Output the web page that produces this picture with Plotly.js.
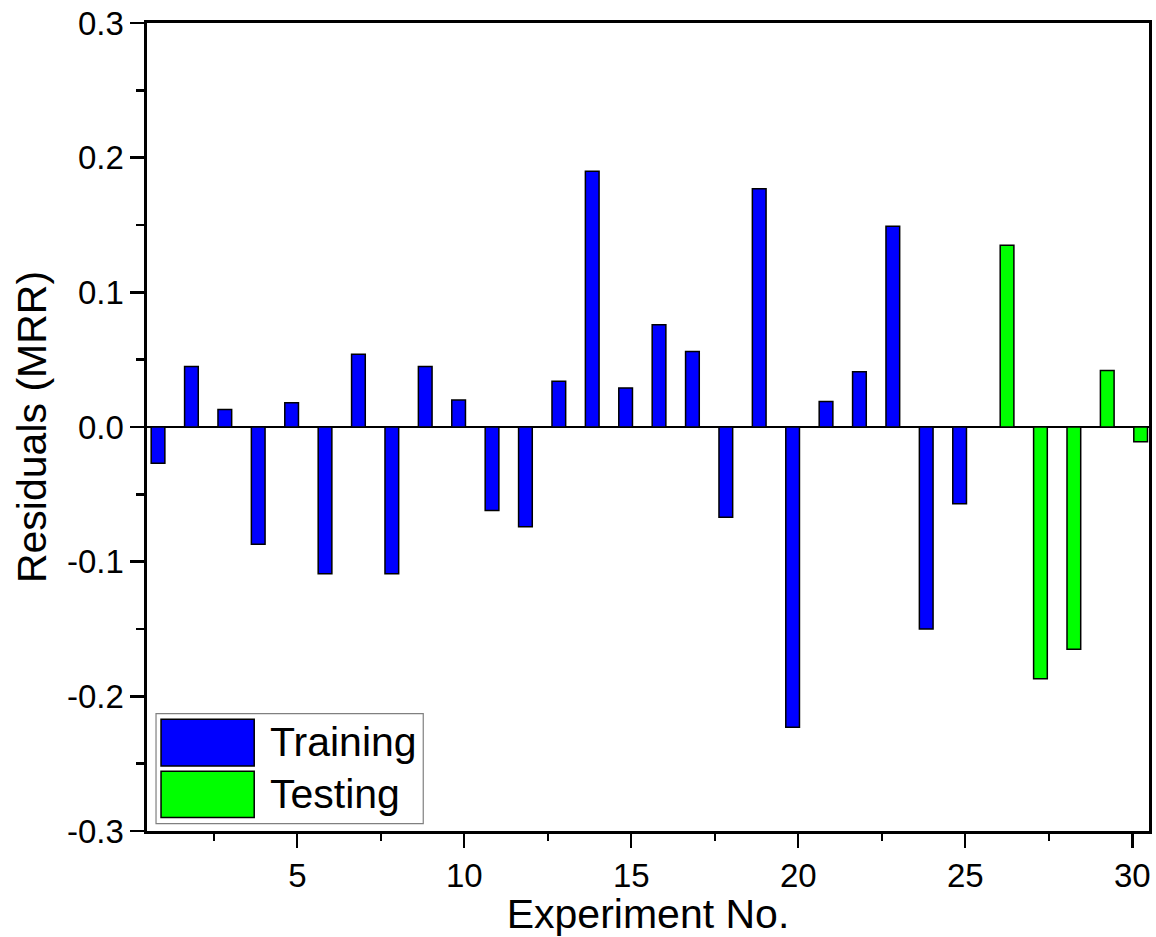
<!DOCTYPE html>
<html>
<head>
<meta charset="utf-8">
<script src="https://cdn.plot.ly/plotly-3.0.1.min.js"></script>
<style>html,body{margin:0;padding:0;background:#fff;}#chart{width:1156px;height:937px;}</style>
</head>
<body>
<div id="chart"></div>
<script>
// Data
const trainingX = [1,2,3,4,5,6,7,8,9,10,11,12,13,14,15,16,17,18,19,20,21,22,23,24,25];
const trainingY = [-0.027,0.045,0.013,-0.087,0.018,-0.109,0.054,-0.109,0.045,0.020,-0.062,-0.074,0.034,0.190,0.029,0.076,0.056,-0.067,0.177,-0.223,0.019,0.041,0.149,-0.150,-0.057];
const testingX = [26,27,28,29,30];
const testingY = [0.135,-0.187,-0.165,0.042,-0.011];
const seriesNames = ["Training","Testing"];
const xTickVals = [5,10,15,20,25,30];
const xTickText = ["5","10","15","20","25","30"];
const yTickVals = [-0.3,-0.2,-0.1,0,0.1,0.2,0.3];
const yTickText = ["-0.3","-0.2","-0.1","0.0","0.1","0.2","0.3"];
const xTitle = "Experiment No.";
const yTitle = "Residuals (MRR)";

const FONT = "Arial";
const outline = {color:"#000", width:1.5};

const traces = [
  {type:"bar", name:seriesNames[0], x:trainingX, y:trainingY, width:0.41, offset:-0.375,
   marker:{color:"#0000FF", line:outline}, showlegend:false},
  {type:"bar", name:seriesNames[1], x:testingX, y:testingY, width:0.41, offset:0.045,
   marker:{color:"#00FF00", line:outline}, showlegend:false}
];

function axisBase(){
  return {
    showline:true, linecolor:"#000", linewidth:2.6, mirror:true,
    ticks:"outside", tickcolor:"#000", tickwidth:2.4, ticklen:14,
    showgrid:false, tickmode:"array",
    tickfont:{family:FONT, size:33, color:"#000"}
  };
}

const layout = {
  width:1156, height:937,
  font:{family:FONT, size:33, color:"#000"},
  margin:{l:147, r:7, t:23, b:106},
  paper_bgcolor:"#fff", plot_bgcolor:"#fff",
  barmode:"overlay",
  showlegend:false,
  xaxis:Object.assign(axisBase(), {
    range:[0.5,30.5], tickvals:xTickVals, ticktext:xTickText, zeroline:false,
    minor:{ticks:"outside", ticklen:7, tickwidth:2.4, tickcolor:"#000", dtick:2.5, tick0:0, showgrid:false},
    title:{text:xTitle, font:{family:FONT, size:41, color:"#000"}, standoff:4}
  }),
  yaxis:Object.assign(axisBase(), {
    range:[-0.3,0.3], tickvals:yTickVals, ticktext:yTickText,
    zeroline:true, zerolinecolor:"#000", zerolinewidth:2.4,
    minor:{ticks:"outside", ticklen:8, tickwidth:2.4, tickcolor:"#000", dtick:0.05, tick0:0, showgrid:false},
    title:{text:yTitle, font:{family:FONT, size:41, color:"#000"}, standoff:8}
  }),
  shapes:[
    {type:"rect", xref:"paper", yref:"paper", x0:0.009, x1:0.2757, y0:0.0092, y1:0.1453,
     line:{color:"#808080", width:1.2}, fillcolor:"#fff"},
    {type:"rect", xref:"paper", yref:"paper", x0:0.014, x1:0.107, y0:0.0804, y1:0.1382,
     line:{color:"#000", width:1.5}, fillcolor:"#0000FF"},
    {type:"rect", xref:"paper", yref:"paper", x0:0.014, x1:0.107, y0:0.0166, y1:0.0739,
     line:{color:"#000", width:1.5}, fillcolor:"#00FF00"}
  ],
  annotations:[
    {xref:"paper", yref:"paper", x:0.1204, y:0.1098, xanchor:"left", yanchor:"middle", showarrow:false,
     text:seriesNames[0], font:{family:FONT, size:41, color:"#000"}},
    {xref:"paper", yref:"paper", x:0.1204, y:0.0455, xanchor:"left", yanchor:"middle", showarrow:false,
     text:seriesNames[1], font:{family:FONT, size:41, color:"#000"}}
  ]
};

Plotly.newPlot("chart", traces, layout, {displayModeBar:false, staticPlot:true});
</script>
</body>
</html>
